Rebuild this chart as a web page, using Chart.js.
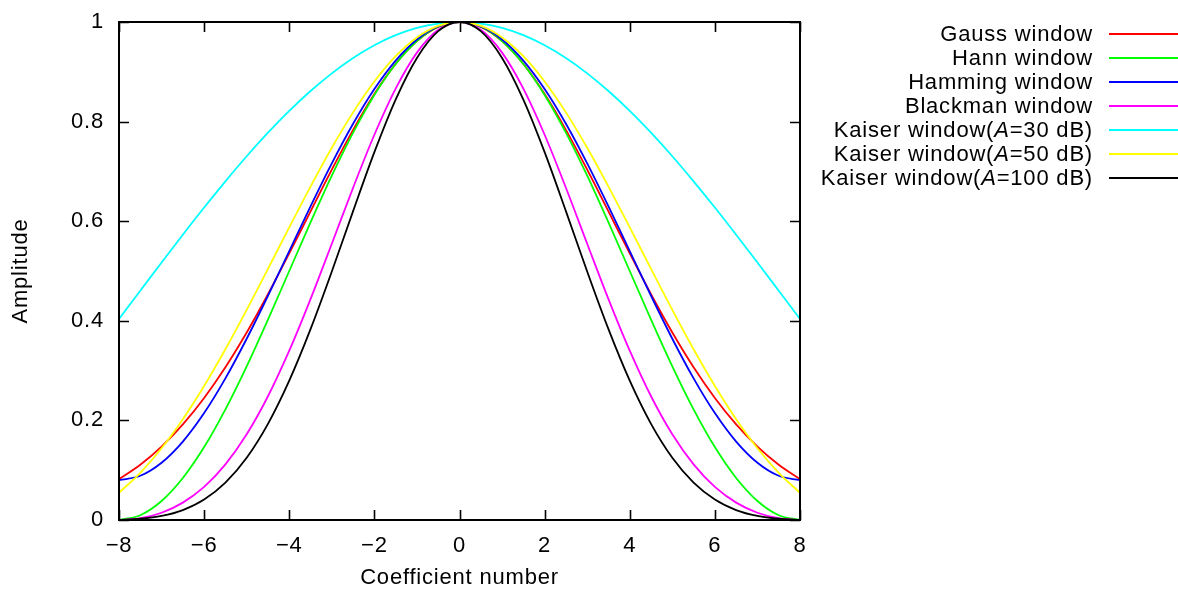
<!DOCTYPE html>
<html>
<head>
<meta charset="utf-8">
<script src="https://cdn.jsdelivr.net/npm/chart.js@4.4.1/dist/chart.umd.min.js"></script>
<style>
  html, body { margin: 0; padding: 0; background: #ffffff; }
  #wrap { position: relative; width: 1178px; height: 591px; overflow: hidden; }
  #c { position: absolute; left: 0; top: 0; }
  #legend { position: absolute; left: 0; top: 0; width: 1178px; height: 200px; pointer-events: none;
            font-family: "Liberation Sans", Arial, sans-serif; font-size: 22px; letter-spacing: 0.8px; color: #000; }
  .row { position: absolute; height: 24px; }
  .txt { position: absolute; right: 85px; white-space: nowrap; line-height: 24px; top: 0; }
  .swatch { position: absolute; left: 1109px; width: 69px; height: 2px; top: 11px; }
</style>
</head>
<body>
<div id="wrap">
  <canvas id="c" width="1178" height="591"></canvas>
  <div id="legend"></div>
</div>
<script>
// ---- data ----
const coefficients = [-8,-7.5,-7,-6.5,-6,-5.5,-5,-4.5,-4,-3.5,-3,-2.5,-2,-1.5,-1,-0.5,0,0.5,1,1.5,2,2.5,3,3.5,4,4.5,5,5.5,6,6.5,7,7.5,8];

const gauss = [0.0821,0.1111,0.1475,0.1920,0.2451,0.3068,0.3766,0.4534,0.5353,0.6197,0.7036,0.7834,0.8553,0.9159,0.9617,0.9903,1,0.9903,0.9617,0.9159,0.8553,0.7834,0.7036,0.6197,0.5353,0.4534,0.3766,0.3068,0.2451,0.1920,0.1475,0.1111,0.0821];
const hann = [0,0.0096,0.0381,0.0843,0.1464,0.2222,0.3087,0.4025,0.5,0.5975,0.6913,0.7778,0.8536,0.9157,0.9619,0.9904,1,0.9904,0.9619,0.9157,0.8536,0.7778,0.6913,0.5975,0.5,0.4025,0.3087,0.2222,0.1464,0.0843,0.0381,0.0096,0];
const hamming = [0.08,0.0888,0.1150,0.1575,0.2147,0.2844,0.3640,0.4503,0.54,0.6297,0.7160,0.7956,0.8653,0.9225,0.9650,0.9912,1,0.9912,0.9650,0.9225,0.8653,0.7956,0.7160,0.6297,0.54,0.4503,0.3640,0.2844,0.2147,0.1575,0.1150,0.0888,0.08];
const blackman = [0,0.0035,0.0146,0.0349,0.0664,0.1116,0.1721,0.2485,0.34,0.4436,0.5548,0.6672,0.7736,0.8663,0.9385,0.9843,1,0.9843,0.9385,0.8663,0.7736,0.6672,0.5548,0.4436,0.34,0.2485,0.1721,0.1116,0.0664,0.0349,0.0146,0.0035,0];
const kaiser30 = [0.4038,0.4605,0.5171,0.5729,0.6274,0.6801,0.7304,0.7777,0.8215,0.8614,0.8969,0.9277,0.9533,0.9736,0.9882,0.9969,1,0.9969,0.9882,0.9736,0.9533,0.9277,0.8969,0.8614,0.8215,0.7777,0.7304,0.6801,0.6274,0.5729,0.5171,0.4605,0.4038];
const kaiser50 = [0.0547,0.0947,0.1441,0.2025,0.2691,0.3428,0.4218,0.5042,0.5876,0.6695,0.7474,0.8185,0.8806,0.9314,0.9690,0.9922,1,0.9922,0.9690,0.9314,0.8806,0.8185,0.7474,0.6695,0.5876,0.5042,0.4218,0.3428,0.2691,0.2025,0.1441,0.0947,0.0547];
const kaiser100 = [0.0003,0.0025,0.0081,0.0199,0.0411,0.0750,0.1250,0.1931,0.2798,0.3832,0.4989,0.6203,0.7387,0.8443,0.9279,0.9816,1,0.9816,0.9279,0.8443,0.7387,0.6203,0.4989,0.3832,0.2798,0.1931,0.1250,0.0750,0.0411,0.0199,0.0081,0.0025,0.0003];

const seriesLabels = ["Gauss window","Hann window","Hamming window","Blackman window","Kaiser window(A=30 dB)","Kaiser window(A=50 dB)","Kaiser window(A=100 dB)"];
const seriesColors = ["#ff0000","#00ff00","#0000ff","#ff00ff","#00ffff","#ffff00","#000000"];
const seriesValues = [gauss, hann, hamming, blackman, kaiser30, kaiser50, kaiser100];

const xTickLabels = ["\u22128","\u22126","\u22124","\u22122","0","2","4","6","8"];
const yTickLabels = ["0","0.2","0.4","0.6","0.8","1"];
const xTitle = "Coefficient number";
const yTitle = "Amplitude";

// ---- chart ----
const FONT = "'Liberation Sans', Arial, sans-serif";
const datasets = seriesValues.map((vals, i) => ({
  label: seriesLabels[i],
  data: vals.map((v, j) => ({ x: coefficients[j], y: v })),
  borderColor: seriesColors[i],
  backgroundColor: seriesColors[i],
  borderWidth: 1.8,
  pointRadius: 0,
  fill: false,
  cubicInterpolationMode: 'monotone',
  order: seriesValues.length - i
}));

const spacingPlugin = {
  id: 'spacing',
  beforeDraw(chart) { chart.ctx.letterSpacing = '0.8px'; }
};

const framePlugin = {
  id: 'frame',
  afterDraw(chart) {
    const { ctx, chartArea: a, scales } = chart;
    ctx.save();
    ctx.strokeStyle = '#000';
    ctx.lineWidth = 1.6;
    const L = 10;
    ctx.beginPath();
    scales.x.ticks.forEach(t => {
      const px = Math.round(scales.x.getPixelForValue(t.value)) + 0.5;
      ctx.moveTo(px, a.bottom); ctx.lineTo(px, a.bottom - L);
      ctx.moveTo(px, a.top); ctx.lineTo(px, a.top + L);
    });
    scales.y.ticks.forEach(t => {
      const py = Math.round(scales.y.getPixelForValue(t.value)) + 0.5;
      ctx.moveTo(a.left, py); ctx.lineTo(a.left + L, py);
      ctx.moveTo(a.right, py); ctx.lineTo(a.right - L, py);
    });
    ctx.stroke();
    ctx.lineWidth = 2;
    ctx.strokeRect(a.left, a.top, a.right - a.left, a.bottom - a.top);
    ctx.restore();
  }
};

new Chart(document.getElementById('c'), {
  type: 'line',
  data: { datasets },
  options: {
    responsive: false,
    animation: false,
    devicePixelRatio: 1,
    layout: { padding: { left: 0, top: 22, right: 378, bottom: 0 } },
    plugins: { legend: { display: false }, tooltip: { enabled: false } },
    scales: {
      x: {
        type: 'linear', min: -8, max: 8,
        grid: { display: false, drawTicks: false },
        border: { display: false },
        ticks: {
          stepSize: 2, padding: 13, color: '#000', maxRotation: 0,
          font: { family: FONT, size: 22 },
          callback: (v) => xTickLabels[Math.round((v + 8) / 2)]
        },
        title: { display: true, text: xTitle, color: '#000', font: { family: FONT, size: 22 }, padding: { top: 0, bottom: 0 } },
        afterFit(s) { s.height = 71; }
      },
      y: {
        type: 'linear', min: 0, max: 1,
        grid: { display: false, drawTicks: false },
        border: { display: false },
        ticks: {
          stepSize: 0.2, padding: 15, color: '#000',
          font: { family: FONT, size: 22, lineHeight: 0.2 },
          callback: (v) => yTickLabels[Math.round(v * 5)]
        },
        title: { display: true, text: yTitle, color: '#000', font: { family: FONT, size: 22 }, padding: { top: 8, bottom: 0 } },
        afterFit(s) { s.width = 119; }
      }
    }
  },
  plugins: [spacingPlugin, framePlugin]
});

// ---- legend (HTML text) ----
const leg = document.getElementById('legend');
seriesLabels.forEach((lab, i) => {
  const row = document.createElement('div');
  row.className = 'row';
  row.style.left = '0px';
  row.style.width = '1178px';
  row.style.top = (22 + i * 24.05) + 'px';
  const t = document.createElement('span');
  t.className = 'txt';
  const parts = lab.split('(A=');
  if (parts.length === 2) {
    t.appendChild(document.createTextNode(parts[0] + '('));
    const it = document.createElement('i');
    it.textContent = 'A';
    t.appendChild(it);
    t.appendChild(document.createTextNode('=' + parts[1]));
  } else {
    t.textContent = lab;
  }
  const sw = document.createElement('div');
  sw.className = 'swatch';
  sw.style.background = seriesColors[i];
  row.appendChild(t);
  row.appendChild(sw);
  leg.appendChild(row);
});
</script>
</body>
</html>
